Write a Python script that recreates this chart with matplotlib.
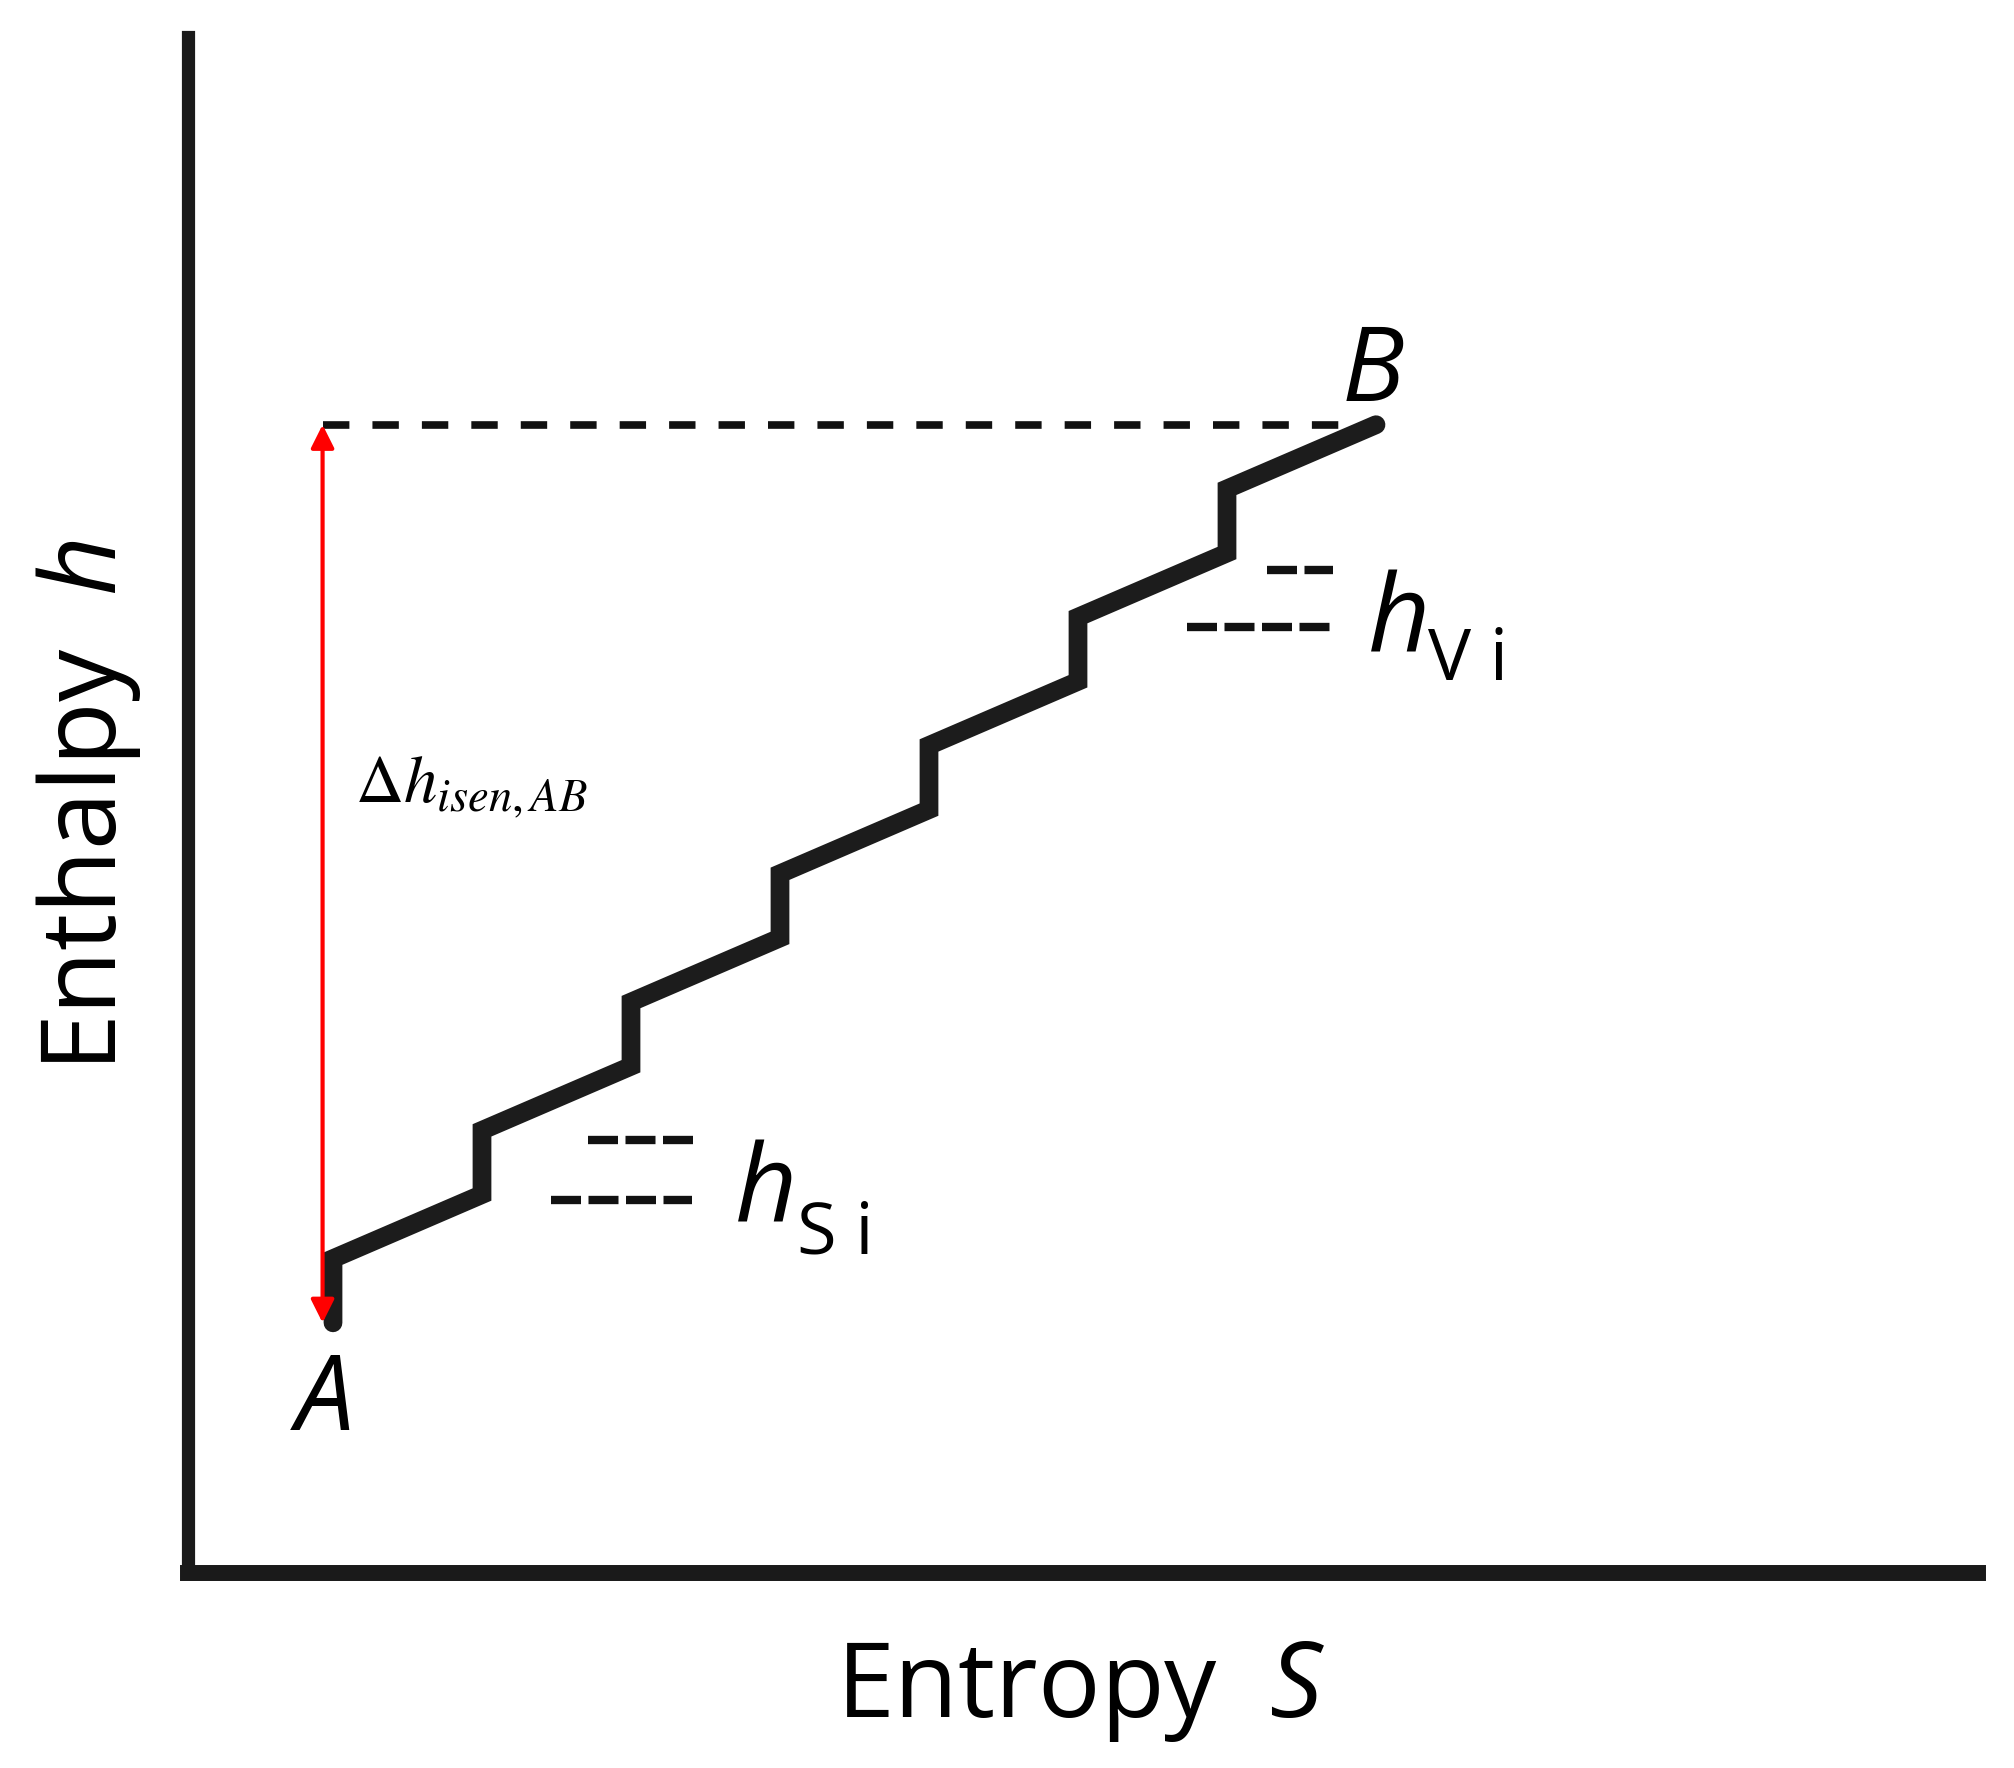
import matplotlib
matplotlib.use('Agg')
import matplotlib.pyplot as plt

plt.rcParams['font.family'] = ['Open Sans', 'DejaVu Sans']
plt.rcParams['mathtext.fontset'] = 'custom'
plt.rcParams['mathtext.rm'] = 'Open Sans'
plt.rcParams['mathtext.it'] = 'Open Sans:italic'
plt.rcParams['lines.scale_dashes'] = False

# ---------------- data ----------------
stage_s = [1, 2, 3, 4, 5, 6, 7]                       # entropy of each stage start
stage_h_in = [2.0, 3.0, 4.0, 5.0, 6.0, 7.0, 8.0]      # enthalpy at stage inlet
stage_h_out = [2.5, 3.5, 4.5, 5.5, 6.5, 7.5, 8.5]     # enthalpy after vertical rise
point_A = (1.0, 2.0)
point_B = (8.0, 9.0)
arrow_s = 0.93

x_label = 'Entropy  $S$'
y_label = 'Enthalpy  $h$'
delta_label = r'$\Delta h_{isen,AB}$'

hs_rows_s = [(2.71, 3.42), (2.46, 3.41)]
hs_rows_h = [3.425, 2.957]
hv_rows_s = [(7.27, 7.71), (6.73, 7.71)]
hv_rows_h = [7.868, 7.423]

# ---------------- figure / axes ----------------
W, H = 2015, 1768
fig = plt.figure(figsize=(W / 100, H / 100), dpi=100)
L, R, Bt, T = 188, 1978, 1573, 37
ax = fig.add_axes([L / W, 1 - Bt / H, (R - L) / W, (Bt - T) / H])
px_s, px_h, s0_px = 149.0, 128.3, 184.0
ax.set_xlim((L - s0_px) / px_s, (R - s0_px) / px_s)
ax.set_ylim(0.05, 0.05 + (Bt - T) / px_h)
ax.set_xticks([])
ax.set_yticks([])
for side in ('top', 'right'):
    ax.spines[side].set_visible(False)
axc = '#1a1a1a'
ax.spines['left'].set_linewidth(9.5)
ax.spines['bottom'].set_linewidth(11.5)
for side in ('left', 'bottom'):
    ax.spines[side].set_color(axc)
    ax.spines[side].set_capstyle('projecting')

# ---------------- staircase path ----------------
path_s, path_h = [], []
for s, hi, ho in zip(stage_s, stage_h_in, stage_h_out):
    path_s += [s, s]
    path_h += [hi, ho]
path_s.append(point_B[0])
path_h.append(point_B[1])
ax.plot(path_s, path_h, color='#1c1c1c', lw=13.5, solid_joinstyle='miter',
        solid_capstyle='round', zorder=3, clip_on=False)

# dashed level of B
ax.plot([arrow_s, point_B[0]], [point_B[1], point_B[1]], color='#111111', lw=5.5,
        linestyle=(0, (19, 16.6)), dash_capstyle='butt', zorder=2)

# red double arrow
ax.annotate('', xy=(arrow_s, point_A[1]), xytext=(arrow_s, point_B[1]),
            arrowprops=dict(arrowstyle='<|-|>,head_length=14,head_width=7',
                            color='#ff0000', lw=3, shrinkA=0, shrinkB=0,
                            mutation_scale=1),
            zorder=5)

# small dashed marks
for (s1, s2), hv in zip(hs_rows_s + hv_rows_s, hs_rows_h + hv_rows_h):
    ax.plot([s1, s2], [hv, hv], color='#111111', lw=6,
            linestyle=(0, (21.6, 5.4)), dash_capstyle='butt', zorder=2)

# ---------------- texts ----------------
big = 75
ax.text(0.946, 1.165, 'A', fontsize=big, style='italic', ha='center', va='baseline')
ax.text(7.98, 9.185, 'B', fontsize=big, style='italic', ha='center', va='baseline')

ax.text(7.946, 7.228, 'h', fontsize=78, style='italic', ha='left', va='baseline')
ax.text(8.349, 7.01, 'V i', fontsize=52, ha='left', va='baseline')
ax.text(3.698, 2.778, 'h', fontsize=78, style='italic', ha='left', va='baseline')
ax.text(4.114, 2.544, 'S i', fontsize=52, ha='left', va='baseline')

ax.text(1.148, 6.06, delta_label, fontsize=48, math_fontfamily='stix',
        ha='left', va='baseline')

fig.text(1081 / W, 1 - 1717 / H, x_label, fontsize=big, ha='center', va='baseline')
fig.text(116 / W, 1 - 806 / H, y_label, fontsize=big, rotation=90,
         rotation_mode='anchor', ha='center', va='baseline')

fig.savefig('out.png', dpi=100, facecolor='white')
